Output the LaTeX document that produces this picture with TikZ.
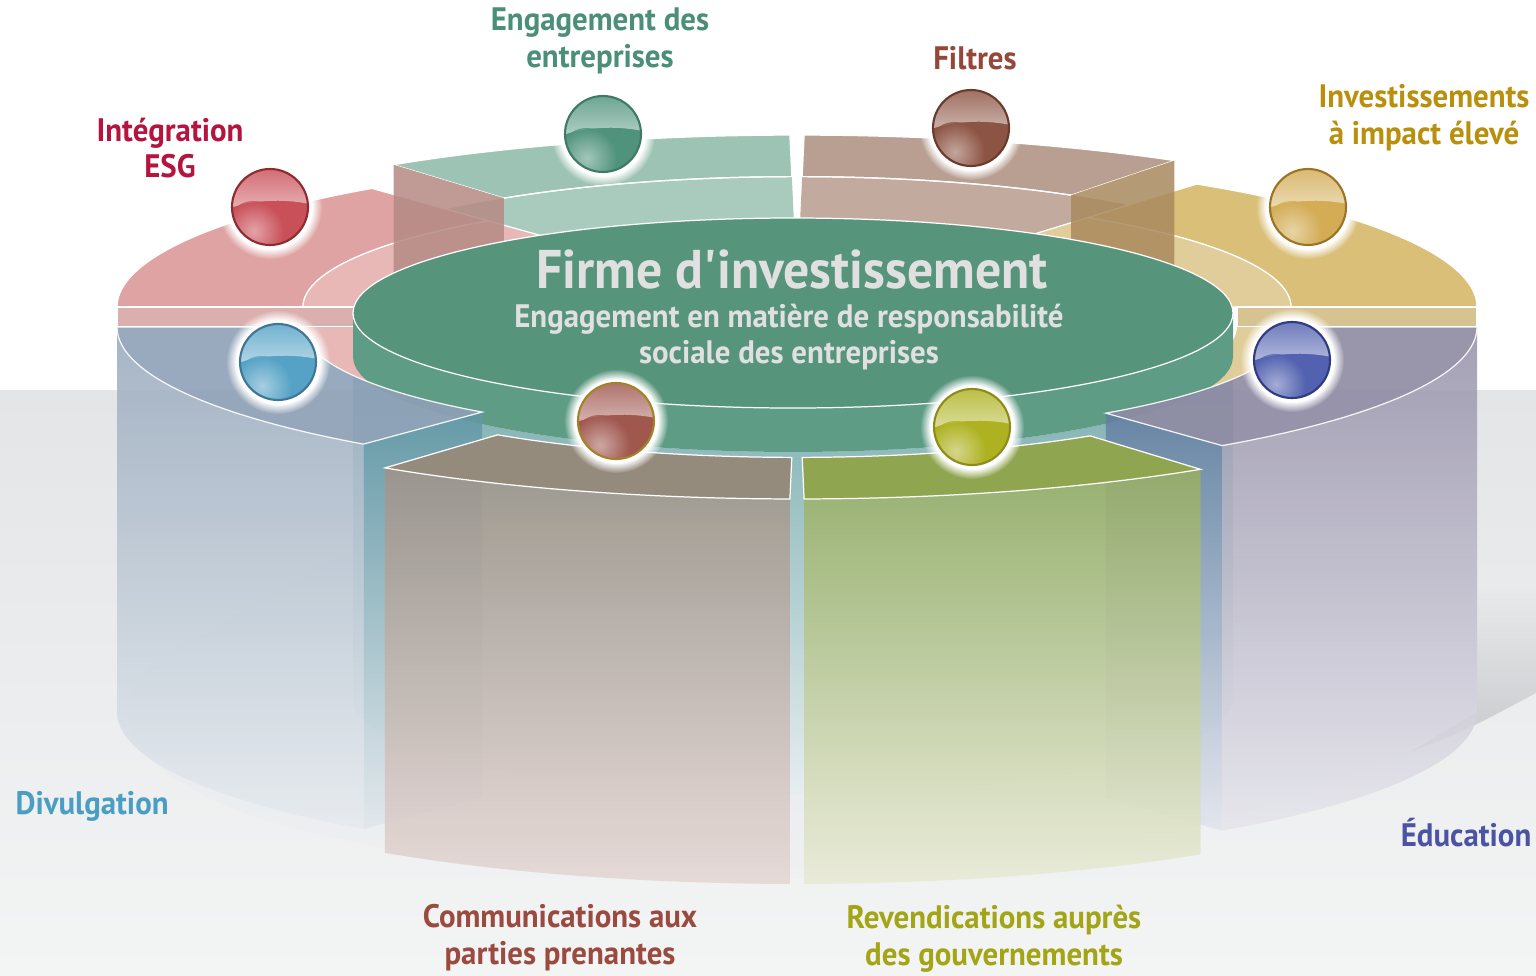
\documentclass[tikz,border=0pt]{standalone}
\usepackage{fontspec}
\setmainfont{PT Sans}[FakeStretch=0.95]
\usetikzlibrary{fadings}

\definecolor{cESG}{HTML}{B5143F}
\definecolor{cEng}{HTML}{4B8F78}
\definecolor{cFil}{HTML}{95473A}
\definecolor{cImp}{HTML}{B8900C}
\definecolor{cDiv}{HTML}{4A9DC3}
\definecolor{cEdu}{HTML}{4B53A3}
\definecolor{cCom}{HTML}{9A4A3E}
\definecolor{cRev}{HTML}{A3A516}
% ring faces
\definecolor{gOut}{HTML}{9DC3B4}\definecolor{gIn}{HTML}{A8CBBE}
\definecolor{bOut}{HTML}{B89F91}\definecolor{bIn}{HTML}{C2AB9E}
\definecolor{rOut}{HTML}{E0A3A3}\definecolor{rIn}{HTML}{E7B8B6}
\definecolor{yOut}{HTML}{D9BF78}\definecolor{yIn}{HTML}{E1CD99}
\definecolor{blFace}{HTML}{8FA1B7}\definecolor{puFace}{HTML}{8F8BA4}
\definecolor{pkFace}{HTML}{958B7D}\definecolor{olFace}{HTML}{8FA54F}
\definecolor{disc}{HTML}{57947C}\definecolor{discband}{HTML}{5E9C86}
% balls
\definecolor{BalESG}{HTML}{C94F58}\definecolor{EdgESG}{HTML}{8E2A30}
\definecolor{BalEng}{HTML}{4F937C}\definecolor{EdgEng}{HTML}{3F7A66}
\definecolor{BalFil}{HTML}{8C5443}\definecolor{EdgFil}{HTML}{6B3A2C}
\definecolor{BalImp}{HTML}{D3AC55}\definecolor{EdgImp}{HTML}{9A7422}
\definecolor{BalDiv}{HTML}{55A2C6}\definecolor{EdgDiv}{HTML}{3F7595}
\definecolor{BalEdu}{HTML}{5262B0}\definecolor{EdgEdu}{HTML}{2F3A80}
\definecolor{BalCom}{HTML}{A0574E}\definecolor{EdgCom}{HTML}{A38226}
\definecolor{BalRev}{HTML}{AEB220}\definecolor{EdgRev}{HTML}{8F8B1A}

\tikzset{
every picture/.style={
line width=0.7pt
}}

% ring pieces: level = y of the ellipse centre, radii along x
\newcommand\ringtop[6]{\path[#1] plot[domain=#5:#6,samples=40] ({ex(#3,\x)},{ey(#3,\x,#2)})
  -- plot[domain=#6:#5,samples=40] ({ex(#4,\x)},{ey(#4,\x,#2)}) -- cycle;}
\newcommand\ringwall[6]{\path[#1] plot[domain=#4:#5,samples=40] ({ex(#3,\x)},{ey(#3,\x,#2)})
  -- plot[domain=#5:#4,samples=40] ({ex(#3,\x)},{ey(#3,\x,#2)+#6}) -- cycle;}
\newcommand\ringend[6]{\path[#1] ({ex(#3,#5)},{ey(#3,#5,#2)}) -- ({ex(#4,#5)},{ey(#4,#5,#2)})
  -- ({ex(#4,#5)},{ey(#4,#5,#2)+#6}) -- ({ex(#3,#5)},{ey(#3,#5,#2)+#6}) -- cycle;}

\begin{document}
\begin{tikzpicture}[x=0.02cm, y=-0.02cm,
declare function={ex(\r,\t)=797+\r*cos(\t); ey(\r,\t,\c)=\c-0.2235*\r*sin(\t);},
lbl/.style = {font=\fontsize{18.5}{21}\selectfont\bfseries, align=center, inner sep=0pt},
rim/.style = {draw=white, line width=0.7pt},
glow/.style = {white, path fading=circle with fuzzy edge 20 percent}]

\useasboundingbox (0,0) rectangle (1536,975);
\fill[white] (0,0) rectangle (1536,975);
\shade[top color={rgb,255:red,228;green,229;blue,231}, bottom color={rgb,255:red,243;green,244;blue,244}]
  (0,390) rectangle (1536,975);

% platform
\shade[top color={rgb,255:red,226;green,230;blue,234}, bottom color={rgb,255:red,238;green,240;blue,242}]
  (340,555) -- (168,653) .. controls (110,690) and (100,760) .. (250,815)
  .. controls (420,870) and (650,880) .. (800,878) .. controls (1050,876) and (1300,820) .. (1536,690)
  -- (1477,650) -- (1477,555) -- cycle;
\shade[top color={rgb,255:red,233;green,234;blue,236}, bottom color={rgb,255:red,200;green,201;blue,204}]
  (1477,585) -- (1536,585) -- (1536,693) .. controls (1500,712) and (1460,735) .. (1410,752) -- (1477,712) -- cycle;

% central cylinder, lower part
\shade[top color={rgb,255:red,94;green,159;blue,160}, bottom color={rgb,255:red,230;green,238;blue,240}, opacity=.8]
  plot[domain=180:360,samples=50] ({793+440*cos(\x)},{357-95*sin(\x)})
  -- plot[domain=360:180,samples=50] ({793+440*cos(\x)},{700-95*sin(\x)}) -- cycle;

% back segments
\ringtop{fill=gIn}{287}{494}{300}{90.6}{140}
\ringtop{fill=bIn}{287}{494}{300}{40}{89.4}
\ringtop{fill=gOut, rim}{287}{680}{494}{90.6}{126.4}
\ringtop{fill=bOut, rim}{287}{680}{494}{56.3}{89.4}
\ringtop{draw=white}{287}{494}{494}{90.6}{126.4}
\ringtop{draw=white}{287}{494}{494}{56.3}{89.4}

% side segments
\ringtop{fill=rOut, rim}{307}{680}{494}{128.7}{180}
\ringtop{fill=rIn, rim}{307}{494}{300}{128.7}{180}
\ringend{fill=rIn!95!black, rim}{307}{680}{440}{180}{20}
\ringtop{fill=yOut, rim}{307}{680}{494}{0}{54}
\ringtop{fill=yIn, rim}{307}{494}{300}{0}{54}
\ringend{fill=yIn!95!black, rim}{307}{680}{440}{0}{20}
\ringend{fill={rgb,255:red,181;green,138;blue,132}, opacity=.85}{287}{680}{494}{126.4}{130}
\ringend{fill={rgb,255:red,169;green,138;blue,94}, opacity=.85}{287}{680}{494}{56.3}{130}

% inner bands below the disc
\ringtop{fill=rIn}{327}{494}{440}{180}{230.4}
\ringtop{fill=yIn}{327}{494}{440}{308.7}{360}

% disc
\fill[discband] plot[domain=180:360,samples=50] ({793+440*cos(\x)},{357-95*sin(\x)})
  -- plot[domain=360:180,samples=50] ({793+440*cos(\x)},{313-95*sin(\x)}) -- cycle;
\fill[disc, rim] (793,313) ellipse [x radius=440, y radius=95];

% front sides
\ringend{top color={rgb,255:red,96;green,150;blue,165}, bottom color={rgb,255:red,225;green,231;blue,236}, opacity=.85}{327}{680}{494}{230.4}{385}
\ringend{top color={rgb,255:red,98;green,126;blue,162}, bottom color={rgb,255:red,225;green,228;blue,237}, opacity=.85}{327}{680}{494}{308.7}{385}
\ringwall{top color={rgb,255:red,150;green,168;blue,188}, bottom color={rgb,255:red,230;green,235;blue,239}, opacity=.85}{327}{680}{180}{230.4}{385}
\ringwall{top color={rgb,255:red,148;green,143;blue,168}, bottom color={rgb,255:red,230;green,229;blue,236}, opacity=.85}{327}{680}{308.7}{360}{385}
\ringtop{fill=blFace, opacity=.9, rim}{327}{680}{494}{180}{230.4}
\ringtop{fill=puFace, opacity=.9, rim}{327}{680}{494}{308.7}{360}

% front segments
\ringwall{top color={rgb,255:red,160;green,147;blue,136}, bottom color={rgb,255:red,228;green,214;blue,211}, opacity=.85}{347}{680}{232.7}{269.4}{385}
\ringwall{top color={rgb,255:red,152;green,174;blue,98}, bottom color={rgb,255:red,232;green,234;blue,212}, opacity=.85}{347}{680}{270.6}{306.4}{385}
\ringtop{fill=pkFace, rim}{347}{680}{494}{232.7}{269.4}
\ringtop{fill=olFace, rim}{347}{680}{494}{270.6}{306.4}

% balls
\foreach \n/\bx/\by in {ESG/270/207, Eng/603/134, Fil/971/128, Imp/1308/207,
                         Div/278/362, Edu/1292/360, Com/616/421, Rev/972/427}
{
  \coordinate (ball\n) at (\bx,\by);
  \fill[glow] (ball\n) circle (52);
  \fill[Bal\n] (ball\n) circle (38);
  \begin{scope}
    \clip (ball\n) circle (38);
    \shade[top color=Bal\n!85!white, bottom color=Bal\n!45!white]
      (\bx-40,\by+1) .. controls (\bx-10,\by-9) and (\bx+20,\by-7) .. (\bx+40,\by-3)
      -- (\bx+40,\by-40) -- (\bx-40,\by-40) -- cycle;
    \shade[inner color=Bal\n!40!white, outer color=Bal\n, opacity=.8] (\bx-16,\by+24) circle (30);
  \end{scope}
  \draw[Edg\n, line width=1.2pt] (ball\n) circle (38);
}

% texts
\node[font=\fontsize{31}{36}\selectfont\bfseries, inner sep=0pt, text depth=0pt, text={rgb,255:red,224;green,224;blue,224}] (firme) at (792,269) {Firme d\textquotesingle investissement};
\node[font=\fontsize{18.5}{20}\selectfont\bfseries, align=center, inner sep=0pt, text={rgb,255:red,224;green,224;blue,224}] (rse) at (789,337)
  {Engagement en matière de responsabilité\\sociale des entreprises};

\node[lbl, text=cESG] (tESG) at (170,148) {Intégration\\ESG};
\node[lbl, text=cEng] (tEng) at (600,41) {Engagement des\\entreprises};
\node[lbl, text=cFil] (tFil) at (975,58) {Filtres};
\node[lbl, text=cImp] (tImp) at (1424,118) {Investissements\\à impact élevé};
\node[lbl, text=cDiv, anchor=west] (tDiv) at (15,806) {Divulgation};
\node[lbl, text=cEdu, anchor=east] (tEdu) at (1532,833) {Éducation};
\node[lbl, text=cCom] (tCom) at (560,938) {Communications aux\\parties prenantes};
\node[lbl, text=cRev] (tRev) at (994,939) {Revendications auprès\\des gouvernements};

\end{tikzpicture}
\end{document}
